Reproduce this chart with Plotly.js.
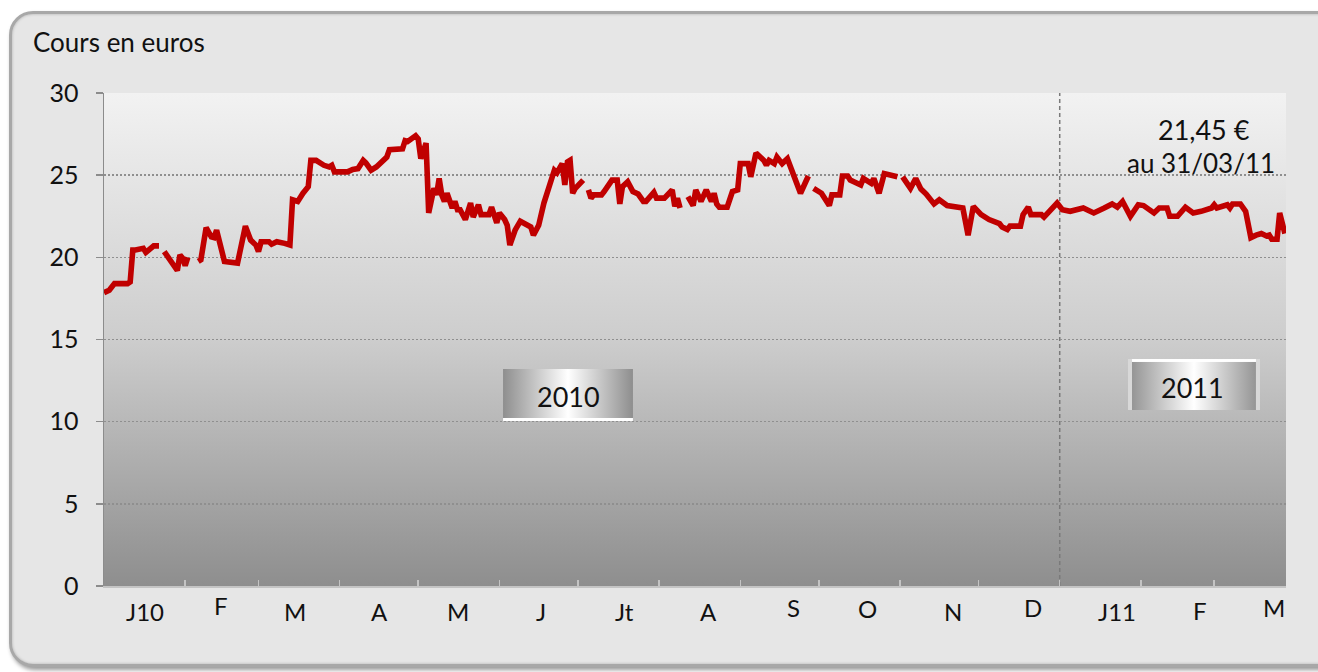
<!DOCTYPE html>
<html><head><meta charset="utf-8">
<script src="https://cdn.plot.ly/plotly-3.0.1.min.js"></script>
<style>
html,body{margin:0;padding:0;background:#fff;width:1318px;height:672px;overflow:hidden;}
#frame{position:absolute;left:9px;top:11px;width:1345px;height:656px;box-sizing:border-box;border:3px solid #a8a8a8;border-radius:24px;background:#e6e6e6;box-shadow:2px 3px 4px rgba(0,0,0,0.4), inset 0 0 3px rgba(0,0,0,0.25);}
#chart{position:absolute;left:0;top:0;width:1318px;height:672px;}
</style></head><body>
<div id="frame"></div><div id="chart"></div>
<script>
const dates = [
'2010-01-01','2010-01-03','2010-01-05','2010-01-10','2010-01-11','2010-01-12','2010-01-13','2010-01-16','2010-01-17','2010-01-19','2010-01-20','2010-01-22','2010-01-23','2010-01-24','2010-01-26','2010-01-29','2010-01-30','2010-01-31',
'2010-02-01','2010-02-02','2010-02-04','2010-02-06','2010-02-07','2010-02-09','2010-02-11','2010-02-12','2010-02-13','2010-02-16','2010-02-21','2010-02-24','2010-02-26','2010-02-28',
'2010-03-01','2010-03-02','2010-03-05','2010-03-06','2010-03-08','2010-03-11','2010-03-13','2010-03-14','2010-03-16','2010-03-18','2010-03-20','2010-03-21','2010-03-23','2010-03-26','2010-03-28','2010-03-29','2010-03-30',
'2010-04-04','2010-04-06','2010-04-08','2010-04-10','2010-04-11','2010-04-13','2010-04-15','2010-04-18','2010-04-19','2010-04-20','2010-04-25','2010-04-26','2010-04-27','2010-04-30',
'2010-05-01','2010-05-02','2010-05-04','2010-05-05','2010-05-06','2010-05-07','2010-05-08','2010-05-09','2010-05-10','2010-05-11','2010-05-12','2010-05-13','2010-05-14','2010-05-15','2010-05-16','2010-05-17','2010-05-19','2010-05-21','2010-05-22','2010-05-24','2010-05-25','2010-05-28','2010-05-29','2010-05-31',
'2010-06-01','2010-06-03','2010-06-04','2010-06-05','2010-06-07','2010-06-09','2010-06-13','2010-06-14','2010-06-16','2010-06-18','2010-06-21','2010-06-22','2010-06-23','2010-06-25','2010-06-26','2010-06-27','2010-06-28','2010-06-29','2010-06-30',
'2010-07-03','2010-07-04','2010-07-05','2010-07-06','2010-07-07','2010-07-10','2010-07-11','2010-07-14','2010-07-16','2010-07-17','2010-07-18','2010-07-20','2010-07-22','2010-07-24','2010-07-26','2010-07-27','2010-07-30','2010-07-31',
'2010-08-03','2010-08-06','2010-08-07','2010-08-08','2010-08-09','2010-08-10','2010-08-12','2010-08-14','2010-08-15','2010-08-17','2010-08-19','2010-08-21','2010-08-22','2010-08-23','2010-08-24','2010-08-27','2010-08-29','2010-08-31',
'2010-09-01','2010-09-04','2010-09-05','2010-09-07','2010-09-10','2010-09-11','2010-09-12','2010-09-14','2010-09-15','2010-09-17','2010-09-19','2010-09-21','2010-09-23','2010-09-24','2010-09-27','2010-09-28','2010-09-29',
'2010-10-02','2010-10-05','2010-10-06','2010-10-09','2010-10-10','2010-10-12','2010-10-13','2010-10-17','2010-10-18','2010-10-21','2010-10-22','2010-10-24','2010-10-26','2010-10-31',
'2010-11-01','2010-11-02','2010-11-05','2010-11-07','2010-11-09','2010-11-11','2010-11-14','2010-11-16','2010-11-19','2010-11-25','2010-11-27','2010-11-29',
'2010-12-02','2010-12-05','2010-12-07','2010-12-09','2010-12-10','2010-12-12','2010-12-13','2010-12-17','2010-12-18','2010-12-20','2010-12-21','2010-12-25','2010-12-26','2010-12-31',
'2011-01-02','2011-01-05','2011-01-10','2011-01-14','2011-01-18','2011-01-21','2011-01-23','2011-01-25','2011-01-28','2011-01-31',
'2011-02-02','2011-02-06','2011-02-08','2011-02-11','2011-02-12','2011-02-15','2011-02-18','2011-02-21','2011-02-24','2011-02-28',
'2011-03-01','2011-03-02','2011-03-06','2011-03-07','2011-03-08','2011-03-11','2011-03-13','2011-03-15','2011-03-17','2011-03-19','2011-03-21','2011-03-22','2011-03-23','2011-03-25','2011-03-26','2011-03-27','2011-03-28'
];
const prices = [
17.85,18.0,18.4,18.4,18.5,20.45,20.45,20.55,20.3,20.6,20.7,20.7,null,20.35,19.85,19.2,20.15,19.95,
19.5,20.0,null,19.75,19.85,21.8,21.25,21.2,21.65,19.75,19.65,21.9,21.05,20.75,
20.35,20.95,20.95,20.8,20.95,20.85,20.75,23.5,23.4,23.9,24.3,25.9,25.9,25.6,25.5,25.6,25.2,
25.2,25.35,25.4,25.9,25.75,25.3,25.5,25.9,26.1,26.55,26.6,27.1,27.05,27.4,
27.2,26.0,26.95,22.7,23.3,24.2,23.8,24.8,23.8,23.4,23.9,23.5,23.0,23.4,22.9,22.9,22.3,23.3,22.45,23.2,22.6,22.6,23.05,22.1,
22.7,22.3,21.95,20.75,21.65,22.2,21.85,21.35,21.95,23.3,24.9,25.3,25.15,25.7,24.4,25.8,25.9,23.9,24.2,
24.7,null,24.1,23.6,23.8,23.8,24.0,24.7,24.7,23.25,24.3,24.6,24.0,23.85,23.4,23.4,23.95,23.6,
23.6,24.1,23.1,23.6,23.0,null,23.7,23.15,24.1,23.4,24.1,23.4,23.9,23.25,23.05,23.05,24.0,24.1,
25.7,25.7,24.9,26.35,25.9,25.6,25.9,25.7,26.1,25.7,26.0,25.2,24.4,23.9,24.95,null,24.2,
23.9,23.15,23.8,23.8,24.95,24.95,24.7,24.4,24.8,24.5,24.8,23.9,25.1,24.9,
null,24.9,24.2,24.8,24.15,23.85,23.25,23.5,23.15,23.0,21.35,23.1,
22.6,22.3,22.2,22.05,21.85,21.7,21.9,21.9,22.6,23.05,22.6,22.6,22.45,23.3,
22.9,22.8,23.0,22.7,23.0,23.25,23.05,23.4,22.5,23.2,
23.15,22.7,23.0,23.0,22.5,22.5,23.05,22.7,22.8,23.0,
23.2,23.0,23.2,23.0,23.25,23.25,22.8,21.2,21.35,21.45,21.3,21.35,21.1,21.1,22.7,22.2,21.45
];
const monthStarts = ['2010-01-01','2010-02-01','2010-03-01','2010-04-01','2010-05-01','2010-06-01','2010-07-01','2010-08-01','2010-09-01','2010-10-01','2010-11-01','2010-12-01','2011-01-01','2011-02-01','2011-03-01','2011-04-01'];
const monthLabels = ['J10','F','M','A','M','J','Jt','A','S','O','N','D','J11','F','M'];
const yTicks = [0,5,10,15,20,25,30];
const yearStart2011 = '2011-01-01';
const yearLabels = ['2010','2011'];
const lastPrice = '21,45 €';
const lastDate = 'au 31/03/11';
const yTitle = 'Cours en euros';

// ---- styling ----
const FONT = 'Lato, "Open Sans", sans-serif';
const labelShift = [[0,0],[-1,6],[-4,0],[1,0],[-1,0],[2,0],[6,0],[9,0],[14,4],[8,3],[14,0],[14,4],[17,0],[22,1],[19,4]];
function svgUri(s){return 'data:image/svg+xml;charset=utf-8,'+encodeURIComponent(s);}
const bgSvg = '<svg xmlns="http://www.w3.org/2000/svg" width="10" height="100" viewBox="0 0 10 100" preserveAspectRatio="none"><defs><linearGradient id="g" x1="0" y1="0" x2="0" y2="1"><stop offset="0" stop-color="#f2f2f2"/><stop offset="0.5" stop-color="#cdcdcd"/><stop offset="1" stop-color="#8e8e8e"/></linearGradient></defs><rect width="10" height="100" fill="url(#g)"/></svg>';
function boxSvg(whiteTop){
  return '<svg xmlns="http://www.w3.org/2000/svg" width="130" height="52" viewBox="0 0 130 52" preserveAspectRatio="none"><defs><linearGradient id="h" x1="0" y1="0" x2="1" y2="0"><stop offset="0" stop-color="#8e8e8e"/><stop offset="0.5" stop-color="#ffffff"/><stop offset="1" stop-color="#8e8e8e"/></linearGradient></defs><rect width="130" height="52" fill="url(#h)"/>' +
    (whiteTop ? '<rect x="0" y="0" width="130" height="3" fill="#ffffff"/><rect x="0" y="0" width="4" height="52" fill="#d8d8d8"/><rect x="126" y="0" width="4" height="52" fill="#d8d8d8"/>'
              : '<rect x="0" y="49" width="130" height="3" fill="#ffffff"/>') + '</svg>';
}

const mid = [];
for (let i = 0; i < monthLabels.length; i++) {
  const a = new Date(monthStarts[i] + 'T00:00:00Z').getTime();
  const b = new Date(monthStarts[i+1] + 'T00:00:00Z').getTime();
  mid.push(new Date((a+b)/2).toISOString().slice(0,19).replace('T',' '));
}

const annotations = monthLabels.map((t,i) => ({
  text: t, x: mid[i], xref: 'x', y: -0.0527, yref: 'paper',
  xanchor: 'center', yanchor: 'middle', showarrow: false,
  xshift: labelShift[i][0], yshift: labelShift[i][1],
  font: {family: FONT, size: 24, color: '#111'}
}));
annotations.push(
  {text: yearLabels[0], x: 0.3926, y: 0.3834, xref:'paper', yref:'paper', showarrow:false, xanchor:'center', yanchor:'middle', font:{family:FONT,size:27,color:'#111'}},
  {text: yearLabels[1], x: 0.9205, y: 0.4036, xref:'paper', yref:'paper', showarrow:false, xanchor:'center', yanchor:'middle', font:{family:FONT,size:27,color:'#111'}},
  {text: lastPrice, x: 0.9306, y: 0.925, xref:'paper', yref:'paper', showarrow:false, xanchor:'center', yanchor:'middle', font:{family:FONT,size:27,color:'#111'}},
  {text: lastDate, x: 0.928, y: 0.858, xref:'paper', yref:'paper', showarrow:false, xanchor:'center', yanchor:'middle', font:{family:FONT,size:26,color:'#111'}}
);

const trace = {
  x: dates, y: prices, type: 'scatter', mode: 'lines', connectgaps: false,
  line: {color: '#c00000', width: 5.6, shape: 'linear'}, hoverinfo: 'skip'
};

const layout = {
  width: 1318, height: 672,
  margin: {l: 104, r: 32, t: 93, b: 86},
  paper_bgcolor: 'rgba(0,0,0,0)', plot_bgcolor: 'rgba(0,0,0,0)',
  showlegend: false,
  title: {text: yTitle, xref: 'container', yref: 'container', x: 33/1318, xanchor: 'left', y: 1 - 43/672, yanchor: 'middle',
          font: {family: FONT, size: 26, color: '#111'}},
  xaxis: {
    type: 'date', range: ['2010-01-01', '2011-03-28 10:00'],
    tickmode: 'array', tickvals: monthStarts, ticktext: monthStarts.map(() => ''),
    ticks: 'inside', ticklen: 6, tickwidth: 1.5, tickcolor: '#c4c4c4',
    showticklabels: false, showgrid: false, zeroline: false,
    showline: true, linecolor: '#c4c4c4', linewidth: 1.5
  },
  yaxis: {
    range: [0, 30], tickmode: 'array', tickvals: yTicks,
    ticks: 'outside', ticklen: 7, tickwidth: 1.5, tickcolor: '#8c8c8c',
    showline: true, linecolor: '#8c8c8c', linewidth: 1.5,
    showgrid: true, gridcolor: '#8f8f8f', gridwidth: 1.5, griddash: '2px,2px',
    zeroline: false, ticklabelstandoff: 12,
    tickfont: {family: FONT, size: 25, color: '#111'}
  },
  shapes: [{type: 'line', xref: 'x', yref: 'y', x0: yearStart2011, x1: yearStart2011, y0: 0, y1: 30,
            line: {color: '#7a7a7a', width: 1.5, dash: '4px,3px'}, layer: 'below'}],
  images: [
    {source: svgUri(bgSvg), xref: 'paper', yref: 'paper', x: 0, y: 1, sizex: 1, sizey: 1, sizing: 'stretch', xanchor: 'left', yanchor: 'top', layer: 'below'},
    {source: svgUri(boxSvg(false)), xref: 'paper', yref: 'paper', x: 0.3376, y: 0.4402, sizex: 0.1099, sizey: 0.1055, sizing: 'stretch', xanchor: 'left', yanchor: 'top', layer: 'above'},
    {source: svgUri(boxSvg(true)), xref: 'paper', yref: 'paper', x: 0.8663, y: 0.4604, sizex: 0.1117, sizey: 0.1035, sizing: 'stretch', xanchor: 'left', yanchor: 'top', layer: 'above'}
  ],
  annotations: annotations
};

Plotly.newPlot('chart', [trace], layout, {staticPlot: true, displayModeBar: false});
</script>
</body></html>
